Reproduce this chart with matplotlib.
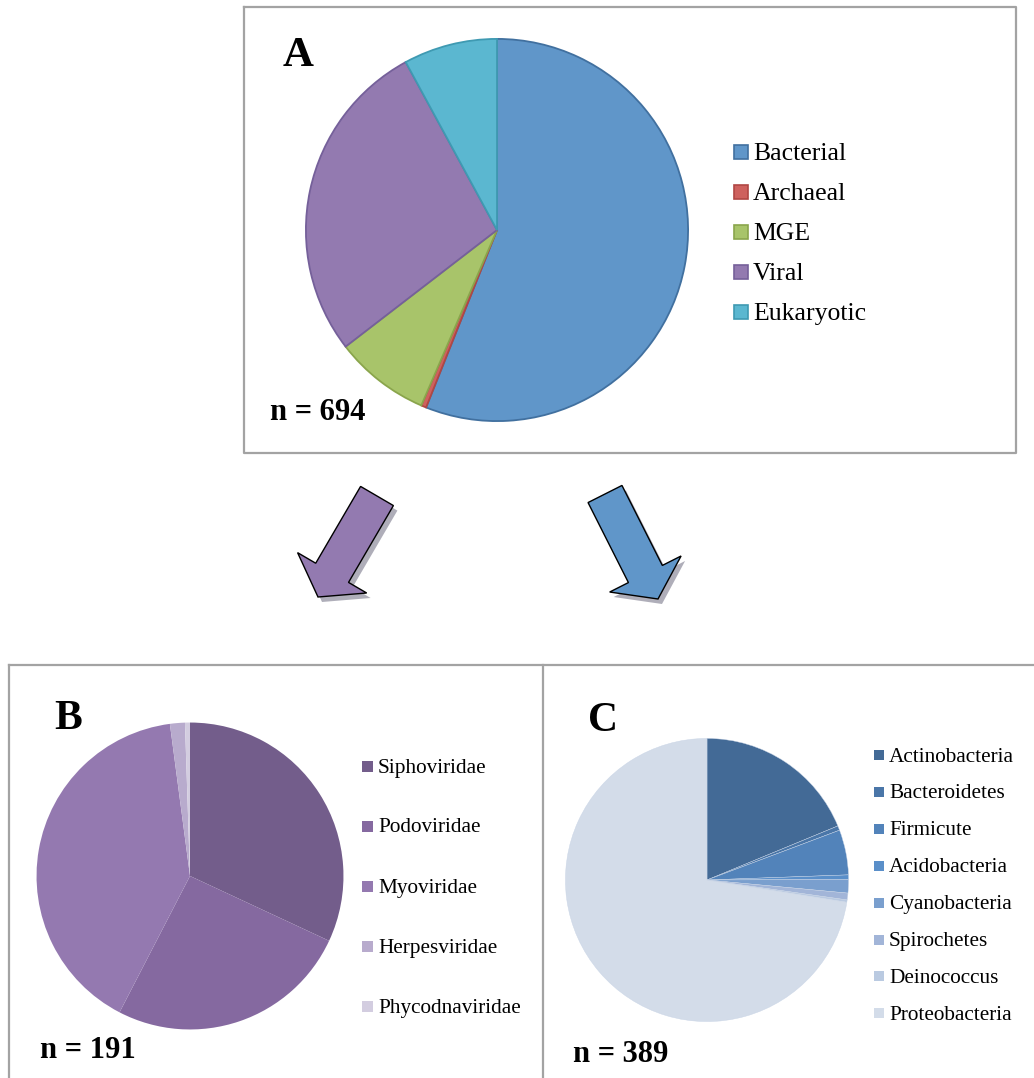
import matplotlib.pyplot as plt
from matplotlib.patches import Rectangle, FancyArrow

plt.rcParams['font.family'] = ['Liberation Serif', 'DejaVu Serif']

W, H = 1034, 1078

# A: all hits by origin
origin_labels = ['Bacterial', 'Archaeal', 'MGE', 'Viral', 'Eukaryotic']
origin_counts = [389, 3, 56, 191, 55]
origin_colors = ['#6096C9', '#CE615E', '#A8C46A', '#937AB0', '#5BB7D0']
origin_edges = ['#41709F', '#B04744', '#8AA54C', '#75609A', '#3F9AB2']

# B: viral hits by family
viral_labels = ['Siphoviridae', 'Podoviridae', 'Myoviridae', 'Herpesviridae', 'Phycodnaviridae']
viral_counts = [61, 49, 77, 3, 1]
viral_colors = ['#735D8B', '#8569A0', '#9479B0', '#B8ABCD', '#D3CDE0']

# C: bacterial hits by phylum
bact_labels = ['Actinobacteria', 'Bacteroidetes', 'Firmicute', 'Acidobacteria',
               'Cyanobacteria', 'Spirochetes', 'Deinococcus', 'Proteobacteria']
bact_counts = [73, 2, 20, 2, 6, 3, 1, 282]
bact_colors = ['#436A96', '#4A76A8', '#5283BA', '#5A8FC9',
               '#7A9FCE', '#A2B5D8', '#BACAE1', '#D3DCE9']


def pie_axes(fig, cx, cy, r):
    ax = fig.add_axes([(cx - r) / W, (H - cy - r) / H, 2 * r / W, 2 * r / H])
    ax.axis('off')
    return ax


def draw_pie(ax, counts, colors, edges=None, lw=0, ec='white'):
    wedges, _ = ax.pie(counts, colors=colors, startangle=90, counterclock=False,
                       radius=1, wedgeprops=dict(linewidth=lw, edgecolor=ec))
    if edges is not None:
        for w, c in zip(wedges, edges):
            w.set_edgecolor(c)
    ax.set_xlim(-1.01, 1.01)
    ax.set_ylim(-1.01, 1.01)


def legend(ax, labels, colors, x, y0, dy, size, fs, edges=None):
    for i, (lab, col) in enumerate(zip(labels, colors)):
        y = y0 + i * dy
        ec = edges[i] if edges else col
        ax.add_patch(Rectangle((x, y - size / 2 - 1), size, size, facecolor=col,
                               edgecolor=ec, lw=1.2 if edges else 0))
        ax.text(x + size + 5, y + 1, lab, fontsize=fs, va='center', ha='left')


def arrow(ax, x0, y0, x1, y1, color):
    kw = dict(width=38, head_width=80, head_length=28, length_includes_head=True)
    ax.add_patch(FancyArrow(x0 + 4, y0 + 5, x1 - x0, y1 - y0, color='#8d8c9c',
                            alpha=0.7, lw=0, **kw))
    ax.add_patch(FancyArrow(x0, y0, x1 - x0, y1 - y0, facecolor=color,
                            edgecolor='black', lw=1.0, **kw))


fig = plt.figure(figsize=(W / 100, H / 100), dpi=100)

ov = fig.add_axes([0, 0, 1, 1])
ov.set_xlim(0, W)
ov.set_ylim(H, 0)
ov.axis('off')

frame = dict(color='#A3A3A3', lw=1.6)
# panel boxes
ov.plot([244, 1016, 1016, 244, 244], [7, 7, 453, 453, 7], **frame)
ov.plot([9, W], [665, 665], **frame)
ov.plot([9, 9], [665, H], **frame)
ov.plot([543, 543], [665, H], **frame)

arrow(ov, 377, 496, 318, 597, '#937AB0')
arrow(ov, 605, 494, 658, 599, '#6096C9')

# panel A
axA = pie_axes(fig, 497, 230, 193)
draw_pie(axA, origin_counts, origin_colors, edges=origin_edges, lw=1.3)
ov.text(298, 56, 'A', fontsize=31, fontweight='bold', ha='center', va='center')
ov.text(270, 413, 'n = 694', fontsize=22, fontweight='bold', ha='left', va='center')
legend(ov, origin_labels, origin_colors, 734, 153, 40, 14, 18.5, edges=origin_edges)

# panel B
axB = pie_axes(fig, 190, 876, 155)
draw_pie(axB, viral_counts, viral_colors)
ov.text(68, 719, 'B', fontsize=30, fontweight='bold', ha='center', va='center')
ov.text(40, 1050, 'n = 191', fontsize=22, fontweight='bold', ha='left', va='center')
legend(ov, viral_labels, viral_colors, 362, 767, 60, 11, 15.3)

# panel C
axC = pie_axes(fig, 707, 880, 143)
draw_pie(axC, bact_counts, bact_colors, lw=0.3, ec='#C8D4E6')
ov.text(603, 721, 'C', fontsize=30, fontweight='bold', ha='center', va='center')
ov.text(573, 1055, 'n = 389', fontsize=22, fontweight='bold', ha='left', va='center')
legend(ov, bact_labels, bact_colors, 874, 756, 36.9, 10, 15.3)

fig.savefig('out.png', dpi=100)
